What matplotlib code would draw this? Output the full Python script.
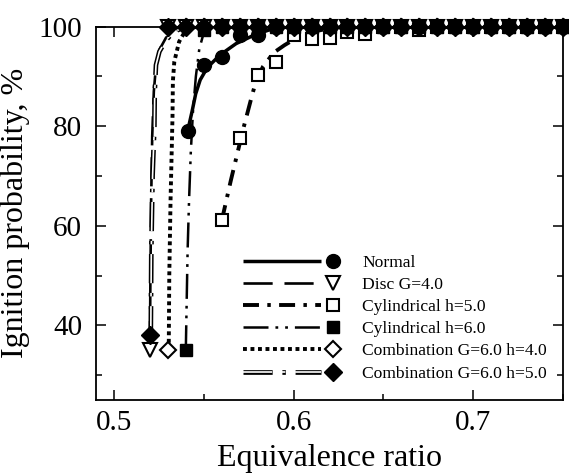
import matplotlib
matplotlib.use("Agg")
import matplotlib.pyplot as plt
import matplotlib.patheffects as pe
from matplotlib.lines import Line2D
from matplotlib.legend_handler import HandlerBase
from matplotlib.ticker import MultipleLocator

plt.rcParams['font.family'] = ['Liberation Serif', 'DejaVu Serif']
plt.rcParams['lines.scale_dashes'] = False

# measured points (equivalence ratio, ignition probability %)
phi_top = [0.59, 0.60, 0.61, 0.62, 0.63, 0.64, 0.65, 0.66, 0.67, 0.68, 0.69,
           0.70, 0.71, 0.72, 0.73, 0.74, 0.75]
p_top = [100, 100, 100, 100, 100, 100, 100, 100, 100, 100, 100,
         100, 100, 100, 100, 100, 100]

normal_phi = [0.541, 0.550, 0.560, 0.570, 0.580] + phi_top
normal_p = [79.0, 92.3, 94.0, 98.3, 98.3] + p_top

disc_phi = [0.520, 0.530, 0.540, 0.550, 0.560, 0.570, 0.580] + phi_top
disc_p = [35.0, 100, 100, 100, 100, 100, 100] + p_top

cyl5_phi = [0.560, 0.570, 0.580, 0.590, 0.600, 0.610, 0.620, 0.630, 0.640,
            0.650, 0.660, 0.670, 0.680, 0.690, 0.700, 0.710, 0.720, 0.730,
            0.740, 0.750]
cyl5_p = [61.1, 77.6, 90.3, 93.0, 98.3, 97.5, 97.8, 99.0, 98.5,
          100, 100, 99.3, 100, 100, 100, 100, 100, 100, 100, 100]

cyl6_phi = [0.540, 0.550, 0.560, 0.570, 0.580] + phi_top
cyl6_p = [35.0, 99.3, 100, 100, 100] + p_top

comb4_phi = [0.530, 0.540, 0.550, 0.560, 0.570, 0.580] + phi_top
comb4_p = [35.0, 100, 100, 100, 100, 100] + p_top

comb5_phi = [0.520, 0.530, 0.540, 0.550, 0.560, 0.570, 0.580] + phi_top
comb5_p = [38.0, 100, 100, 100, 100, 100, 100] + p_top

# fitted curves
normal_fit_phi = [0.541, 0.5435, 0.5455, 0.548, 0.552, 0.559, 0.568, 0.578, 0.586, 0.595, 0.75]
normal_fit_p = [79.0, 83.0, 86.5, 89.3, 91.8, 94.3, 96.6, 98.3, 99.3, 100, 100]

disc_fit_phi = [0.5200, 0.5203, 0.5207, 0.5213, 0.5222, 0.5235, 0.5255, 0.529, 0.534, 0.542, 0.75]
disc_fit_p = [35.0, 50.0, 65.0, 78.0, 87.0, 92.5, 95.5, 97.8, 99.2, 100, 100]

cyl5_fit_phi = [0.560, 0.5625, 0.565, 0.567, 0.569, 0.572, 0.576, 0.579, 0.583, 0.589,
                0.595, 0.602, 0.610, 0.620, 0.630, 0.75]
cyl5_fit_p = [61.0, 65.0, 69.0, 72.0, 75.0, 79.5, 85.0, 89.0, 92.0, 94.8,
              96.3, 97.8, 98.9, 99.7, 100, 100]

cyl6_fit_phi = [0.540, 0.5405, 0.541, 0.5418, 0.5428, 0.544, 0.5456, 0.5475, 0.550, 0.555, 0.75]
cyl6_fit_p = [35.0, 45.0, 55.0, 65.0, 75.0, 83.0, 90.0, 95.5, 98.8, 100, 100]

comb4_fit_phi = [0.5305, 0.5308, 0.5315, 0.5326, 0.5328, 0.5336, 0.5363, 0.539, 0.5425, 0.546, 0.75]
comb4_fit_p = [35.0, 50.0, 65.0, 82.0, 89.0, 93.0, 97.0, 98.7, 99.8, 100, 100]

comb5_fit_phi = [0.5205, 0.5208, 0.5215, 0.5225, 0.5227, 0.5234, 0.5253, 0.529, 0.5326, 0.537, 0.542, 0.75]
comb5_fit_p = [38.0, 55.0, 70.0, 80.0, 87.0, 92.3, 95.0, 97.3, 98.7, 99.6, 100, 100]

labels = ['Normal', 'Disc G=4.0', 'Cylindrical h=5.0', 'Cylindrical h=6.0',
          'Combination G=6.0 h=4.0', 'Combination G=6.0 h=5.0']


class LineMarkerHandler(HandlerBase):
    # line on the left, marker drawn separately to its right
    def create_artists(self, legend, orig_handle, xdescent, ydescent,
                       width, height, fontsize, trans):
        line_h, mark_h = orig_handle
        y = height / 2 - ydescent
        x0 = -xdescent
        ln = Line2D([x0, x0 + 0.79 * width], [y, y])
        ln.update_from(line_h)
        ln.set_marker('None')
        mk = Line2D([x0 + 0.92 * width], [y])
        mk.update_from(mark_h)
        mk.set_linestyle('None')
        ln.set_transform(trans)
        mk.set_transform(trans)
        return [ln, mk]


fig = plt.figure(figsize=(5.69, 4.73), dpi=100)
ax = fig.add_axes([0.1687, 0.1543, 0.8208, 0.7893])

k = 'black'
l1, = ax.plot(normal_fit_phi, normal_fit_p, color=k, lw=2.5, solid_capstyle='butt')
l2, = ax.plot(disc_fit_phi, disc_fit_p, color=k, lw=1.9, dashes=(21, 8.5))
l3, = ax.plot(cyl5_fit_phi, cyl5_fit_p, color=k, lw=2.8, dashes=(11.5, 6, 2.5, 6))
l4, = ax.plot(cyl6_fit_phi, cyl6_fit_p, color=k, lw=1.8, dashes=(18, 5, 2, 5, 2, 5))
l5, = ax.plot(comb4_fit_phi, comb4_fit_p, color=k, lw=2.8, dashes=(2.8, 2.6))
l6, = ax.plot(comb5_fit_phi, comb5_fit_p, color='white', lw=1.2, dashes=(21, 7, 2.5, 7),
              path_effects=[pe.Stroke(linewidth=3.4, foreground=k), pe.Normal()])

mk = dict(linestyle='None', clip_on=False, zorder=3)
m1, = ax.plot(normal_phi, normal_p, marker='o', ms=10, color=k, **mk)
m2, = ax.plot(disc_phi, disc_p, marker='v', ms=10, mfc='white', mec=k, mew=1.5, **mk)
m3, = ax.plot(cyl5_phi, cyl5_p, marker='s', ms=8.5, mfc='white', mec=k, mew=1.5, **mk)
m4, = ax.plot(cyl6_phi, cyl6_p, marker='s', ms=9, color=k, **mk)
m5, = ax.plot(comb4_phi, comb4_p, marker='D', ms=8, mfc='white', mec=k, mew=1.5, **mk)
m6, = ax.plot(comb5_phi, comb5_p, marker='D', ms=9, color=k, **mk)

ax.set_xlim(0.49, 0.75)
ax.set_ylim(25, 100)
ax.xaxis.set_major_locator(MultipleLocator(0.1))
ax.xaxis.set_minor_locator(MultipleLocator(0.05))
ax.yaxis.set_major_locator(MultipleLocator(20))
ax.yaxis.set_minor_locator(MultipleLocator(10))
ax.set_xticks([0.5, 0.6, 0.7])
ax.set_xticklabels(['0.5', '0.6', '0.7'])
ax.tick_params(which='both', direction='in', top=True, right=True, width=1.1, labelsize=21)
ax.tick_params(which='major', length=7, pad=7)
ax.tick_params(axis='y', which='major', pad=10)
ax.tick_params(which='minor', length=4)
for s in ax.spines.values():
    s.set_linewidth(1.3)

ax.set_xlabel('Equivalence ratio', fontsize=23, labelpad=6)
ax.set_ylabel('Ignition probability, %', fontsize=23, labelpad=6)

handles = [(l1, m1), (l2, m2), (l3, m3), (l4, m4), (l5, m5), (l6, m6)]
ax.legend(handles, labels, handler_map={tuple: LineMarkerHandler()},
          loc='upper left', bbox_to_anchor=(0.315, 0.39), frameon=False,
          fontsize=12.6, handlelength=5.6, handletextpad=1.2, labelspacing=0.34,
          borderpad=0, borderaxespad=0)

fig.savefig('out.png', dpi=100)
